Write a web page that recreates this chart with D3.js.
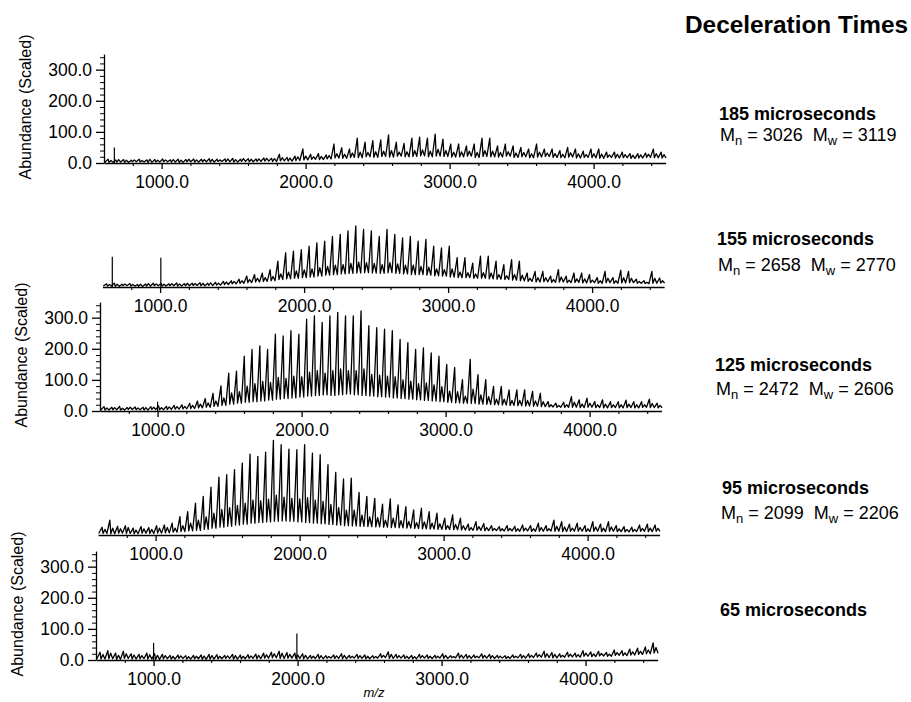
<!DOCTYPE html>
<html><head><meta charset="utf-8">
<script src="https://cdn.jsdelivr.net/npm/d3@7"></script>
<style>body{margin:0;background:#fff} svg{display:block}</style>
</head><body>
<svg id="chart" width="911" height="702"></svg>
<script>
// ---------------- DATA ----------------
// oligomer peak positions (m/z), repeat unit ~54.1
const oligomerMz = [628,682,736,790,844,899,953,1007,1061,1115,1169,1223,1277,1331,1385,1440,1494,1548,1602,1656,1710,1764,1818,1872,1926,1981,2035,2089,2143,2197,2251,2305,2359,2413,2467,2522,2576,2630,2684,2738,2792,2846,2900,2954,3008,3063,3117,3171,3225,3279,3333,3387,3441,3495,3549,3604,3658,3712,3766,3820,3874,3928,3982,4036,4090,4145,4199,4253,4307,4361,4415,4469];
// offsets (m/z) of valley / minor peak / valley after each main peak
const footOffset = 7, shoulderOffset = 20, valleyOffset = 34;

const decelTimes = ["185 microseconds","155 microseconds","125 microseconds","95 microseconds","65 microseconds"];
const mnValues = [3026, 2658, 2472, 2099, null];
const mwValues = [3119, 2770, 2606, 2206, null];

const peaks185 = [12,10,11,9,12,10,11,13,10,12,11,13,12,14,12,13,15,12,14,13,16,15,28,18,22,
  45,28,30,26,61,49,45,80,67,72,74,90,67,63,80,83,80,93,77,61,61,55,61,80,80,55,61,55,50,45,61,45,45,40,50,45,38,45,45,35,35,35,30,30,32,45,35];
const valleys185 = [2,3,2,4,3,2,3,4,3,2,4,3,4,3,5,4,3,5,4,5,6,5,7,6,8,
  10,12,11,13,16,15,18,17,20,18,21,19,22,20,21,23,20,22,21,19,20,22,18,21,20,19,22,18,20,17,19,21,18,17,19,16,18,17,15,18,16,17,15,16,18,17,16];
const shoulders185 = [8,11,9,10,8,12,9,10,11,9,12,10,11,12,10,13,11,14,12,13,15,14,17,16,20,
  22,20,21,24,30,28,32,35,34,36,38,40,35,36,40,42,38,44,40,35,36,38,34,40,38,34,36,32,34,30,35,32,30,28,33,30,27,30,29,26,28,27,25,26,28,30,27];
const spikes185 = [[672,50]];

const peaks155 = [10,12,9,11,8,10,12,11,10,13,11,12,14,12,15,18,20,25,35,
  40,45,56,83,110,115,120,131,142,147,163,169,180,196,185,180,163,185,169,158,163,147,153,131,126,131,94,94,77,99,99,83,72,88,83,45,50,50,35,56,35,45,45,40,30,50,30,54,50,25,20,50,29];
const valleys155 = [3,2,4,3,2,3,4,3,4,3,4,5,4,5,6,
  8,10,12,14,16,18,
  20,24,26,28,30,32,
  35,38,40,42,44,45,46,45,44,46,44,42,40,40,
  38,36,35,32,30,30,28,28,26,25,
  24,22,20,18,16,17,15,16,14,15,
  13,14,12,14,12,13,14,12,11,12,13];
const shoulders155 = [8,9,10,8,9,11,10,9,11,10,12,11,12,13,12,
  16,18,20,24,28,30,
  34,42,48,52,55,58,
  62,66,70,72,76,80,78,76,72,78,74,70,70,66,
  64,58,56,58,48,46,42,46,45,40,
  36,40,38,28,30,30,24,32,22,26,
  26,22,20,28,20,30,28,18,15,28,20];
const spikes155 = [[668,97],[1005,94]];

const peaks125 = [14,12,15,11,13,12,14,16,15,18,20,25,32,40,
  57,81,122,128,176,198,209,198,247,241,258,247,295,306,285,306,317,306,306,322,274,268,263,258,230,220,198,203,187,176,150,140,101,166,117,101,79,79,68,68,68,63,57,30,25,28,46,36,41,30,36,30,30,35,30,30,38,25];
const valleys125 = [3,4,3,5,4,3,5,4,5,6,7,8,10,12,
  15,18,22,25,28,30,32,
  35,38,40,42,45,48,50,52,50,52,55,52,50,48,46,45,42,40,38,36,
  34,32,30,28,26,25,24,22,21,20,
  19,18,17,16,15,14,13,12,12,12,
  11,12,11,10,11,10,11,10,12,11,10];
const shoulders125 = [10,11,9,12,10,11,12,11,13,14,15,18,22,26,
  32,42,58,62,80,88,95,
  92,108,105,112,110,125,130,122,130,135,130,130,135,118,115,112,110,100,96,88,
  90,84,78,64,62,48,70,52,46,38,
  38,34,34,34,32,30,20,18,20,28,
  22,25,20,22,20,20,22,20,20,24,18];
const spikes125 = [[1000,30]];

const peaks95 = [25,48,28,30,22,27,24,30,32,
  38,59,75,102,124,154,186,194,210,231,260,253,266,304,290,276,274,290,263,258,226,201,180,183,137,124,118,99,116,97,91,81,86,75,70,54,65,54,35,43,37,30,27,30,28,32,30,38,30,48,43,35,38,30,43,35,43,30,27,25,32,35,32];
const valleys95 = [5,4,6,5,4,6,5,6,7,
  9,11,13,15,18,22,
  25,28,32,35,38,40,42,44,45,44,42,40,38,36,34,32,
  30,29,28,27,26,25,24,23,22,21,20,19,18,18,17,
  16,15,15,14,14,13,13,12,13,12,12,13,12,11,12,12,11,12,11,12,11,10,11,12,11,12];
const shoulders95 = [18,22,20,24,16,20,18,22,24,
  22,30,38,48,58,70,
  82,88,95,102,112,110,115,128,122,118,116,120,112,108,98,88,
  80,80,64,58,56,48,54,46,44,40,42,38,36,30,34,
  30,24,27,24,21,20,21,20,22,20,24,20,28,26,22,24,20,26,22,26,20,18,18,21,22,21];
const spikes95 = [];

const peaks65 = [25,30,22,28,20,18,22,20,
  18,15,16,14,15,16,18,17,15,18,16,17,19,
  22,25,28,24,22,20,
  15,18,14,16,20,15,18,16,14,20,26,18,16,15,
  18,16,15,20,14,22,18,16,20,18,15,14,16,18,20,
  22,28,24,20,25,22,30,26,28,24,32,30,35,38,42,55];
const valleys65 = [3,4,2,5,3,4,3,2,4,3,5,3,4,2,3,4,5,3,4,5,4,6,7,5,6,5,4,5,4,6,5,4,6,5,4,6,8,5,6,5,4,6,5,6,5,7,6,5,7,6,5,6,5,7,6,8,9,8,7,9,10,9,12,11,13,12,15,14,16,18,20,22];
const shoulders65 = [18,22,15,20,16,14,17,15,14,12,13,11,12,13,14,12,13,14,12,13,15,17,20,22,18,16,15,12,14,11,13,15,12,14,12,11,15,18,14,12,11,14,12,12,15,11,16,14,12,15,14,12,11,12,14,15,17,20,18,15,19,17,22,20,21,19,24,23,26,28,32,40];
const spikes65 = [[1000,55],[1995,85]];

const xMajorTicks = [1000,2000,3000,4000];
const xMinorTicks = [800,1200,1400,1600,1800,2200,2400,2600,2800,3200,3400,3600,3800,4200,4400];
const yMajorTicks = [0,100,200,300];
const yMinorTicks = [20,40,60,80,120,140,160,180,220,240,260,280,320,340];
const xDomain = [600,4500];
const yDomain = [0,350];

// ---------------- LAYOUT ----------------
const FONT = "'Liberation Sans', Arial, Helvetica, sans-serif";
const panels = [
  {peaks:peaks185, valleys:valleys185, shoulders:shoulders185, spikes:spikes185, left:104, base:163, yAxis:true,  tx:719, ty:119.5, mx:720, my:140.5},
  {peaks:peaks155, valleys:valleys155, shoulders:shoulders155, spikes:spikes155, left:102.5, base:287, yAxis:false, tx:717, ty:245, mx:718, my:271},
  {peaks:peaks125, valleys:valleys125, shoulders:shoulders125, spikes:spikes125, left:100, base:411, yAxis:true,  tx:715, ty:371, mx:716, my:394.5},
  {peaks:peaks95,  valleys:valleys95,  shoulders:shoulders95,  spikes:spikes95,  left:98,  base:535, yAxis:false, tx:722, ty:494, mx:721, my:518.5},
  {peaks:peaks65,  valleys:valleys65,  shoulders:shoulders65,  spikes:spikes65,  left:96,  base:660, yAxis:true,  tx:720, ty:615.5, mx:null, my:null}
];
const plotW = 561.6, plotH = 108.9;

const svg = d3.select("#chart");
svg.append("rect").attr("width",911).attr("height",702).attr("fill","#fff");

panels.forEach((p, i) => {
  const x = d3.scaleLinear().domain(xDomain).range([p.left, p.left + plotW]);
  const y = d3.scaleLinear().domain(yDomain).range([p.base, p.base - plotH]);
  const g = svg.append("g");

  // spectrum trace
  const pts = [[xDomain[0] + 5, p.valleys[0]]];
  oligomerMz.forEach((m, k) => {
    pts.push([m, p.peaks[k]]);
    pts.push([m + footOffset, p.valleys[k]]);
    pts.push([m + shoulderOffset, p.shoulders[k]]);
    pts.push([m + valleyOffset, p.valleys[k]]);
  });
  const line = d3.line().x(d => x(d[0])).y(d => y(d[1]));
  g.append("path").attr("d", line(pts)).attr("fill","none")
    .attr("stroke","#000").attr("stroke-width",1.3).attr("stroke-linejoin","round");

  // isolated spikes
  g.selectAll("line.spike").data(p.spikes).enter().append("line")
    .attr("x1", d => x(d[0])).attr("x2", d => x(d[0]))
    .attr("y1", y(0)).attr("y2", d => y(d[1]))
    .attr("stroke","#000").attr("stroke-width",1.2);

  // x axis
  const xa = g.append("g").attr("transform", `translate(0,${p.base})`)
    .call(d3.axisBottom(x).tickValues(xMajorTicks).tickFormat(d3.format(".1f"))
      .tickSize(6).tickSizeOuter(0).tickPadding(6.5));
  xa.select(".domain").attr("stroke","#000").attr("stroke-width",1.5);
  xa.selectAll(".tick line").attr("stroke","#000").attr("stroke-width",1.3);
  xa.selectAll("text").attr("font-family",FONT).attr("font-size",17.5).attr("fill","#000");
  const xm = g.append("g").attr("transform", `translate(0,${p.base})`)
    .call(d3.axisBottom(x).tickValues(xMinorTicks).tickFormat("").tickSize(3).tickSizeOuter(0));
  xm.select(".domain").remove();
  xm.selectAll(".tick line").attr("stroke","#000").attr("stroke-width",1.1);

  if (p.yAxis) {
    const ya = g.append("g").attr("transform", `translate(${p.left},0)`)
      .call(d3.axisLeft(y).tickValues(yMajorTicks).tickFormat(d3.format(".1f"))
        .tickSize(8).tickSizeOuter(0).tickPadding(4));
    ya.select(".domain").attr("stroke","#000").attr("stroke-width",1.3);
    ya.selectAll(".tick line").attr("stroke","#000").attr("stroke-width",1.3);
    ya.selectAll("text").attr("font-family",FONT).attr("font-size",17.5).attr("fill","#000");
    const ym = g.append("g").attr("transform", `translate(${p.left},0)`)
      .call(d3.axisLeft(y).tickValues(yMinorTicks).tickFormat("").tickSize(4).tickSizeOuter(0));
    ym.select(".domain").remove();
    ym.selectAll(".tick line").attr("stroke","#000").attr("stroke-width",1);
    g.append("text")
      .attr("transform", `translate(${p.left - 73},${p.base - 56}) rotate(-90)`)
      .attr("text-anchor","middle").attr("font-family",FONT).attr("font-size",16)
      .attr("fill","#000").text("Abundance (Scaled)");
  }

  // right-hand annotations
  svg.append("text").attr("x",p.tx).attr("y",p.ty).attr("font-family",FONT)
    .attr("font-weight","bold").attr("font-size",18).attr("fill","#000").text(decelTimes[i]);
  if (mnValues[i] !== null) {
    const t = svg.append("text").attr("x",p.mx).attr("y",p.my).attr("font-family",FONT)
      .attr("font-size",18).attr("fill","#000");
    t.append("tspan").text("M");
    t.append("tspan").attr("dy",4).attr("font-size",13).text("n");
    t.append("tspan").attr("dy",-4).text(` = ${mnValues[i]}\u00A0\u00A0M`);
    t.append("tspan").attr("dy",4).attr("font-size",13).text("w");
    t.append("tspan").attr("dy",-4).text(` = ${mwValues[i]}`);
  }
});

svg.append("text").attr("x",685).attr("y",33).attr("font-family",FONT)
  .attr("font-weight","bold").attr("font-size",24).attr("fill","#000")
  .attr("textLength",223).attr("lengthAdjust","spacingAndGlyphs").text("Deceleration Times");

svg.append("text").attr("x",374).attr("y",697).attr("text-anchor","middle")
  .attr("font-family",FONT).attr("font-style","italic").attr("font-size",13)
  .attr("fill","#000").text("m/z");
</script>
</body></html>
